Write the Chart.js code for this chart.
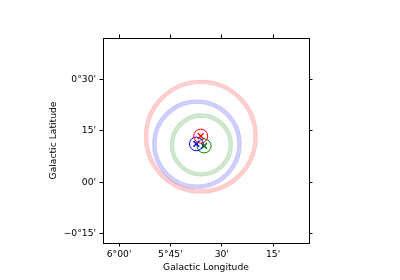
<!DOCTYPE html>
<html>
<head>
<meta charset="utf-8">
<script src="https://cdn.jsdelivr.net/npm/chart.js@4"></script>
<style>
  html, body { margin: 0; padding: 0; background: #fff; }
  #wrap { width: 400px; height: 280px; }
</style>
</head>
<body>
<div id="wrap"><canvas id="sky-chart"></canvas></div>
<script>
// Galactic coordinates in arcminutes (longitude, latitude)
const sourceColors = ['255, 0, 0', '0, 0, 255', '0, 128, 0'];

// large error rings
const ringLon = [336.11, 337.25, 335.96];
const ringLat = [13.3, 11.12, 10.88];
const ringRadius = [16.0, 12.43, 8.6];

// small position circles + x markers
const posLon = [336.14, 337.43, 335.15];
const posLat = [13.45, 11.18, 10.59];
const posRadius = [2.05, 2.0, 2.05];

// axis ranges and ticks
const lonRange = [304.5, 364.7];
const latRange = [-17.7, 42.05];
const lonTicks = [315, 330, 345, 360];
const lonTickLabels = ["15'", "30'", "5\u00b045'", "6\u00b000'"];
const latTicks = [-15, 0, 15, 30];
const latTickLabels = ["\u22120\u00b015'", "00'", "15'", "0\u00b030'"];

const FONT = { family: 'DejaVu Sans', size: 9.2 };
const RING_W = 4.4;

// radius in pixels from a radius in arcmin, using the x scale
function radiusPx(chart, lon, r) {
    const s = chart.scales.x;
    return Math.abs(s.getPixelForValue(lon + r) - s.getPixelForValue(lon));
}

const datasets = [];
sourceColors.forEach((c, i) => {
    // soft band
    datasets.push({
        data: [{ x: ringLon[i], y: ringLat[i] }],
        pointRadius: ctx => radiusPx(ctx.chart, ringLon[i], ringRadius[i]),
        borderColor: `rgba(${c}, 0.18)`,
        backgroundColor: 'rgba(0,0,0,0)',
        borderWidth: RING_W
    });
    // faintly darker inner and outer edges of the band
    [-1, 1].forEach(side => {
        datasets.push({
            data: [{ x: ringLon[i], y: ringLat[i] }],
            pointRadius: ctx => radiusPx(ctx.chart, ringLon[i], ringRadius[i]) + side * (RING_W / 2 - 0.6),
            borderColor: `rgba(${c}, 0.06)`,
            backgroundColor: 'rgba(0,0,0,0)',
            borderWidth: 1.2
        });
    });
});
sourceColors.forEach((c, i) => {
    datasets.push({
        data: [{ x: posLon[i], y: posLat[i] }],
        pointRadius: ctx => radiusPx(ctx.chart, posLon[i], posRadius[i]),
        borderColor: `rgb(${c})`,
        backgroundColor: 'rgba(0,0,0,0)',
        borderWidth: 1
    });
    datasets.push({
        data: [{ x: posLon[i], y: posLat[i] }],
        pointStyle: 'crossRot',
        pointRadius: 4,
        borderColor: `rgb(${c})`,
        borderWidth: 1.5
    });
});

function fixedTicks(values) {
    return scale => { scale.ticks = values.map(v => ({ value: v })); };
}

const edge = {
    grid: { drawOnChartArea: false, drawTicks: true, tickLength: 3.5, color: '#000', lineWidth: 1 },
    border: { display: true, color: '#000', width: 1 }
};

new Chart(document.getElementById('sky-chart'), {
    type: 'scatter',
    data: { datasets: datasets },
    options: {
        responsive: true,
        maintainAspectRatio: false,
        animation: false,
        events: [],
        layout: { padding: 0 },
        plugins: { legend: { display: false }, tooltip: { enabled: false } },
        scales: {
            x: {
                type: 'linear', position: 'bottom', reverse: true,
                min: lonRange[0], max: lonRange[1],
                afterBuildTicks: fixedTicks(lonTicks),
                afterFit: s => { s.height = 37; },
                ticks: {
                    color: '#000', font: FONT, padding: 3, maxRotation: 0, autoSkip: false,
                    callback: v => lonTickLabels[lonTicks.indexOf(v)]
                },
                title: { display: true, text: 'Galactic Longitude', color: '#000', font: FONT, padding: { bottom: 7 } },
                ...edge
            },
            x2: {
                type: 'linear', position: 'top', reverse: true,
                min: lonRange[0], max: lonRange[1],
                afterBuildTicks: fixedTicks(lonTicks),
                afterFit: s => { s.height = 38; },
                ticks: { display: false },
                ...edge
            },
            y: {
                type: 'linear', position: 'left',
                min: latRange[0], max: latRange[1],
                afterBuildTicks: fixedTicks(latTicks),
                afterFit: s => { s.width = 103; },
                ticks: {
                    color: '#000', font: FONT, padding: 3.5, autoSkip: false,
                    callback: v => latTickLabels[latTicks.indexOf(v)]
                },
                title: { display: true, text: 'Galactic Latitude', color: '#000', font: FONT, padding: { top: 48.5 } },
                ...edge
            },
            y2: {
                type: 'linear', position: 'right',
                min: latRange[0], max: latRange[1],
                afterBuildTicks: fixedTicks(latTicks),
                afterFit: s => { s.width = 91; },
                ticks: { display: false },
                ...edge
            }
        }
    }
});
</script>
</body>
</html>
